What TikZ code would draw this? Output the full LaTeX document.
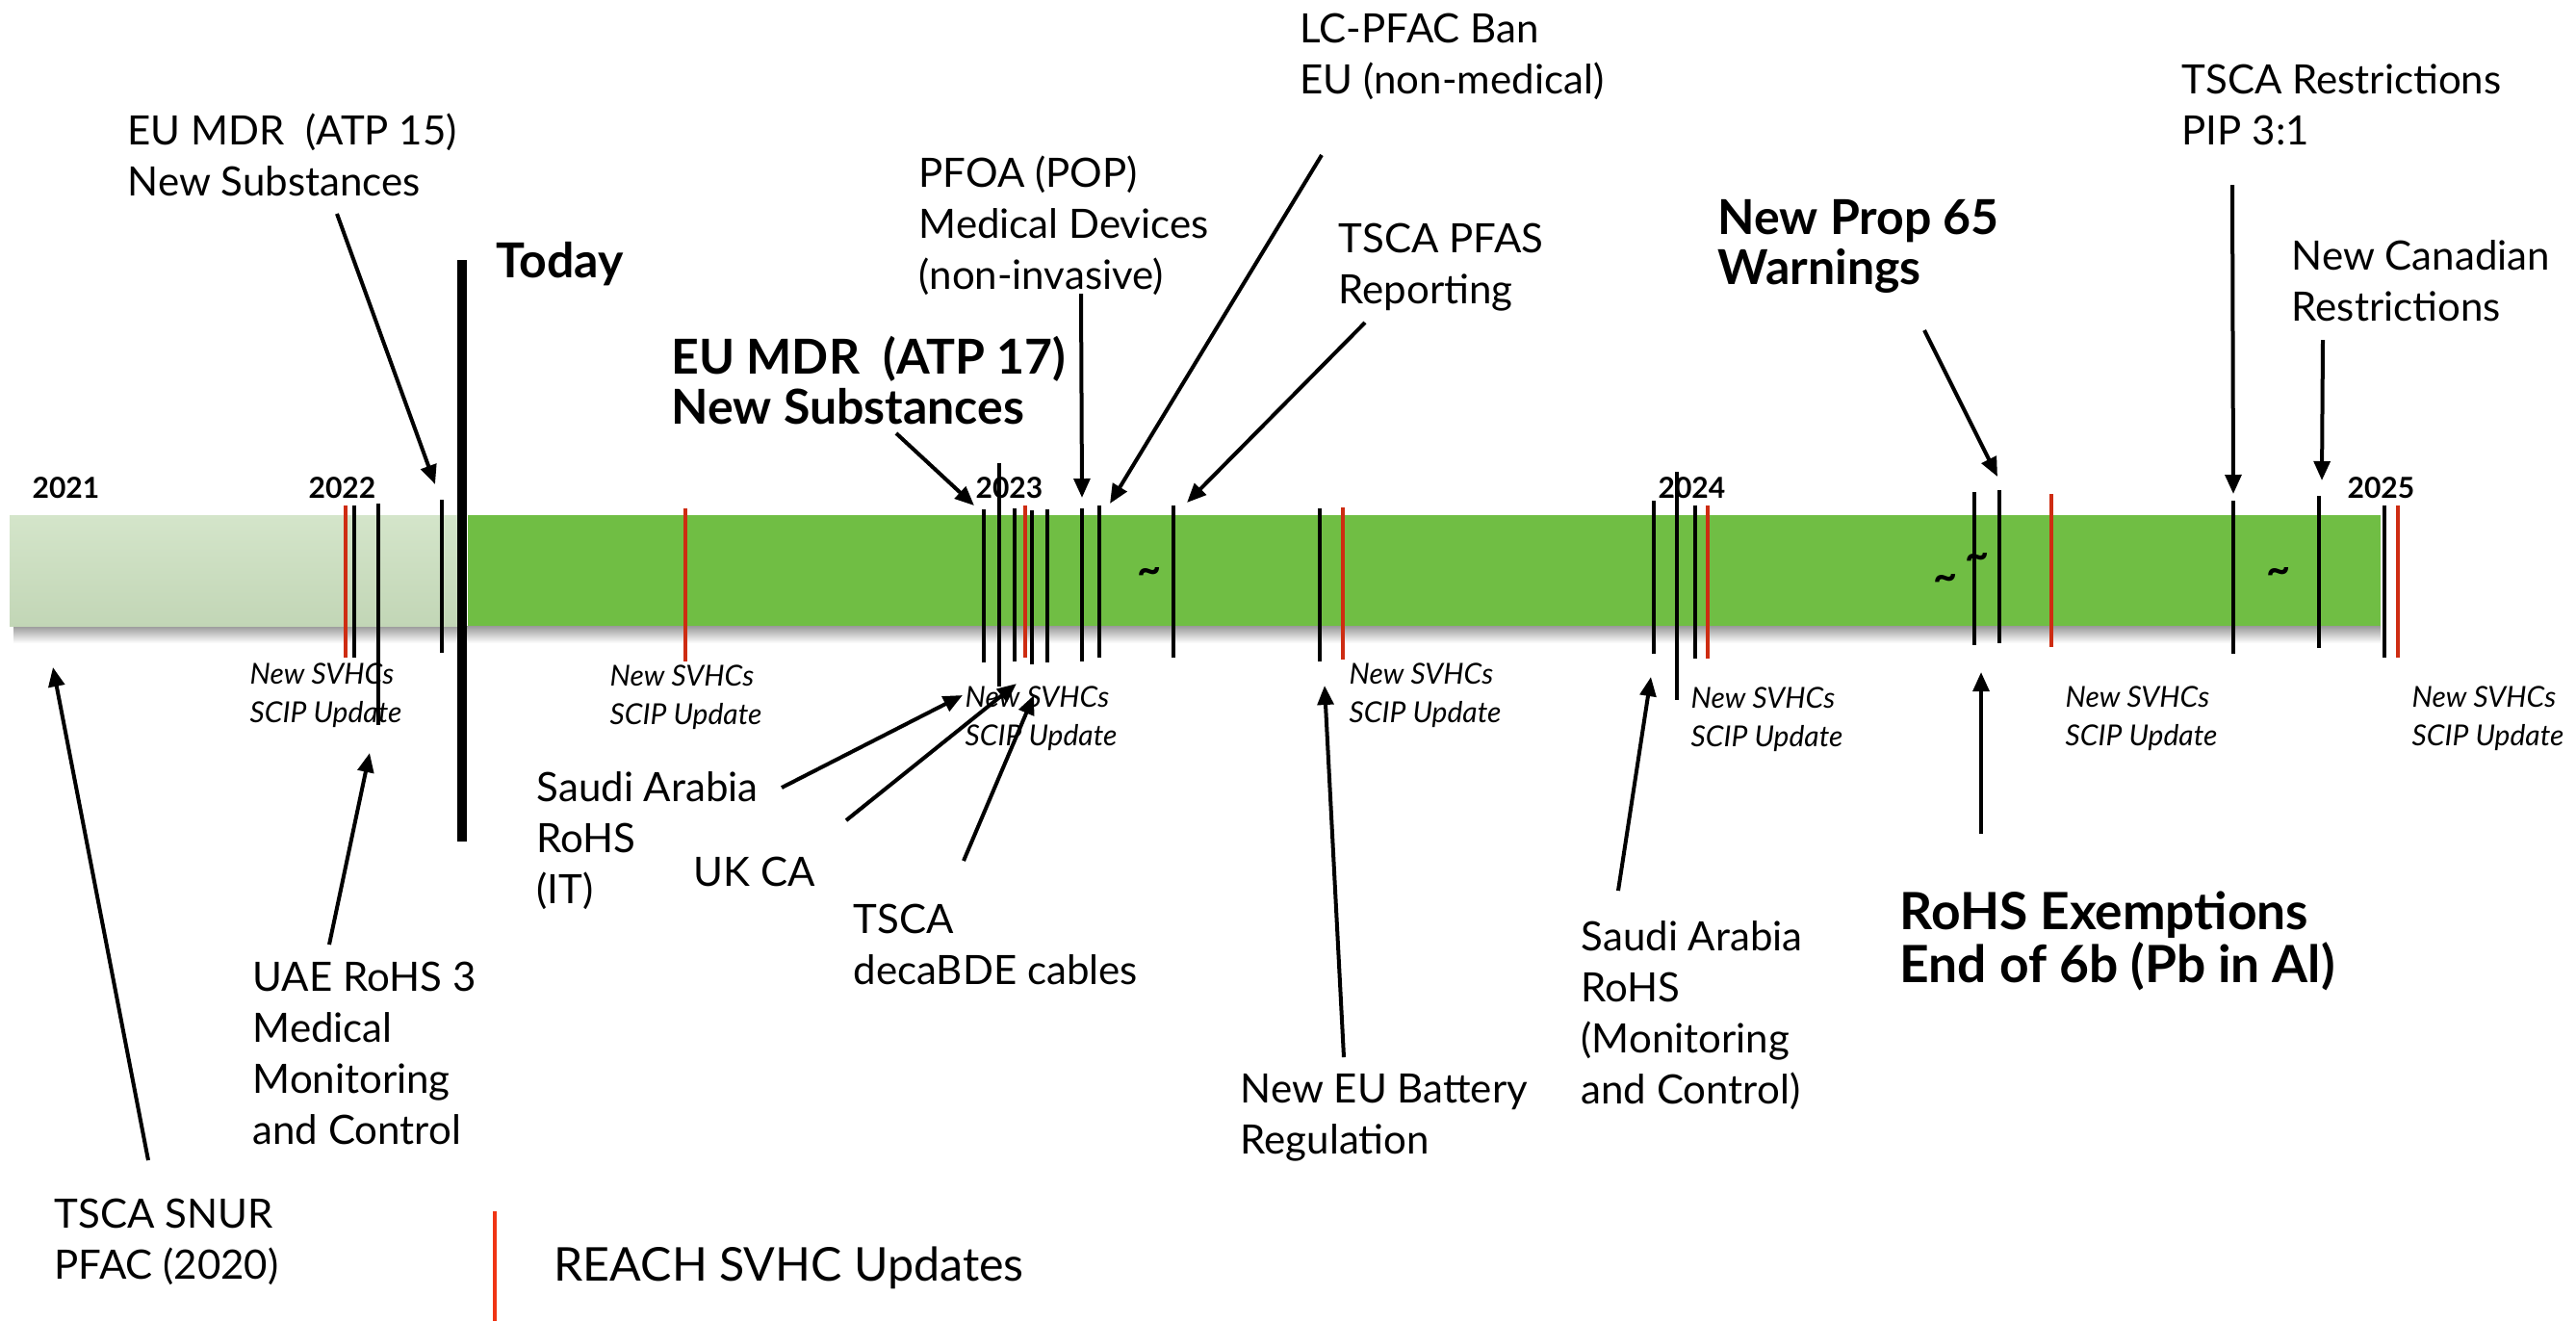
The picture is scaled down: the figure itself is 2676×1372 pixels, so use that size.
\documentclass[tikz,border=0pt]{standalone}
\usepackage{fontspec}
\setmainfont{Lato}
\usetikzlibrary{arrows.meta}
\definecolor{bargreen}{RGB}{112,190,68}
\definecolor{lighttop}{RGB}{212,229,202}
\definecolor{lightbot}{RGB}{194,214,182}
\definecolor{svhcred}{RGB}{206,44,18}
\definecolor{legendred}{RGB}{240,52,20}
\tikzset{
  lbl/.style={anchor=base west, inner sep=0pt, align=left, font={\fontsize{12.6}{15.9}\selectfont}},
  blbl/.style={anchor=base west, inner sep=0pt, align=left, font={\fontsize{15}{15.6}\selectfont\bfseries}},
  svhc/.style={anchor=base west, inner sep=0pt, align=left, font={\fontsize{9}{12}\selectfont\itshape}},
  yr/.style={anchor=base west, inner sep=0pt, font={\fontsize{9}{10}\selectfont\bfseries}},
  tld/.style={inner sep=0pt, font={\fontsize{13}{13}\selectfont\bfseries}},
  tickb/.style={line width=1.3pt, black},
  tickr/.style={line width=1.3pt, svhcred},
  arr/.style={line width=1.2pt, -{Triangle[length=6pt,width=5pt]}},
}
\begin{document}
\begin{tikzpicture}[x=0.3pt,y=-0.3pt]
\useasboundingbox (0,0) rectangle (2676,1372);
% shadow and bar
\shade[top color=black!40, bottom color=white] (14,650) rectangle (2473,668);
\shade[top color=lighttop, bottom color=lightbot] (10,535) rectangle (475,650);
\fill[bargreen] (486,535) rectangle (2473,650);
% Today
\draw[line width=3.2pt] (480,270) -- (480,874);
\node[blbl] (today) at (515,288) {Today};
% years
\node[yr] (y2021) at (33,517) {2021};
\node[yr] (y2022) at (320,517) {2022};
\node[yr] (y2023) at (1013,517) {2023};
\node[yr] (y2024) at (1722,517) {2024};
\node[yr] (y2025) at (2438,517) {2025};
% ticks
\foreach \x/\a/\b in {368/525/683, 393/523/753, 459/519/678, 1022/529/688, 1038/481/713,
  1054/528/687, 1072/530/690, 1088/529/688, 1124/528/687, 1142/525/683, 1219/525/683,
  1371/528/687, 1718/520/679, 1742/490/727, 1761/525/684, 2051/511/670, 2077/509/668,
  2320/520/679, 2409/515/673, 2477/525/683}
  \draw[tickb] (\x,\a) -- (\x,\b);
\foreach \x/\a/\b in {359/525/683, 712/528/687, 1065/525/683, 1395/527/685, 1774/525/684,
  2131/513/672, 2491/525/683}
  \draw[tickr] (\x,\a) -- (\x,\b);
% tildes
\node[tld] (t1) at (1194,598) {\char`\~};
\node[tld] (t2) at (2021,605) {\char`\~};
\node[tld] (t3) at (2054,583) {\char`\~};
\node[tld] (t4) at (2367,598) {\char`\~};
% SVHC labels (anchor = baseline of last line)
\node[svhc] (s1) at (259,750) {New SVHCs\\SCIP Update};
\node[svhc] (s2) at (633,752) {New SVHCs\\SCIP Update};
\node[svhc] (s3) at (1002,774) {New SVHCs\\SCIP Update};
\node[svhc] (s4) at (1401,750) {New SVHCs\\SCIP Update};
\node[svhc] (s5) at (1756,775) {New SVHCs\\SCIP Update};
\node[svhc] (s6) at (2145,774) {New SVHCs\\SCIP Update};
\node[svhc] (s7) at (2505,774) {New SVHCs\\SCIP Update};
% top labels
\node[lbl] (atp15) at (132,203) {EU MDR\ \ (ATP 15)\\New Substances};
\node[blbl] (atp17) at (697,440) {EU MDR\ \ (ATP 17)\\New Substances};
\node[lbl] (pfoa) at (954,300) {PFOA (POP)\\Medical Devices\\(non-invasive)};
\node[lbl] (lcpfac) at (1350,97) {LC-PFAC Ban\\EU (non-medical)};
\node[lbl] (pfas) at (1390,315) {TSCA PFAS\\Reporting};
\node[blbl] (prop65) at (1784,295) {New Prop 65\\Warnings};
\node[lbl] (tscar) at (2266,150) {TSCA Restrictions\\PIP 3:1};
\node[lbl] (canada) at (2380,333) {New Canadian\\Restrictions};
% bottom labels
\node[lbl] (snur) at (56,1328) {TSCA SNUR\\PFAC (2020)};
\node[lbl] (uae) at (262,1188) {UAE RoHS 3\\Medical\\Monitoring\\and Control};
\node[lbl] (saudiit) at (557,938) {Saudi Arabia\\RoHS\\(IT)};
\node[lbl] (ukca) at (720,920) {UK CA};
\node[lbl] (deca) at (886,1022) {TSCA\\decaBDE cables};
\node[lbl] (battery) at (1288,1198) {New EU Battery\\Regulation};
\node[lbl] (saudimc) at (1642,1146) {Saudi Arabia\\RoHS\\(Monitoring\\and Control)};
\node[blbl, font={\fontsize{16}{16.5}\selectfont\bfseries}] (rohsex) at (1973,1020) {RoHS Exemptions\\End of 6b (Pb in Al)};
% legend
\draw[line width=1.4pt, legendred] (514,1258) -- (514,1372);
\node[lbl, font={\fontsize{14.5}{17}\selectfont}] (legend) at (575,1330) {REACH SVHC Updates};
% arrow coordinates
\coordinate (a1s) at (350,222);   \coordinate (a1e) at (452,503);
\coordinate (a2s) at (931,450);   \coordinate (a2e) at (1012,525);
\coordinate (a3s) at (1123,305);  \coordinate (a3e) at (1124,517);
\coordinate (a4s) at (1373,161);  \coordinate (a4e) at (1153,523);
\coordinate (a5s) at (1418,335);  \coordinate (a5e) at (1233,522);
\coordinate (a6s) at (1999,343);  \coordinate (a6e) at (2075,495);
\coordinate (a7s) at (2319,192);  \coordinate (a7e) at (2320,513);
\coordinate (a8s) at (2413,353);  \coordinate (a8e) at (2412,499);
\coordinate (b1s) at (154,1205);  \coordinate (b1e) at (55,693);
\coordinate (b2s) at (342,981);   \coordinate (b2e) at (384,782);
\coordinate (b3s) at (812,818);   \coordinate (b3e) at (1000,722);
\coordinate (b4s) at (879,852);   \coordinate (b4e) at (1056,710);
\coordinate (b5s) at (1001,894);  \coordinate (b5e) at (1074,722);
\coordinate (b6s) at (1396,1098); \coordinate (b6e) at (1376,712);
\coordinate (b7s) at (1681,925);  \coordinate (b7e) at (1715,703);
\coordinate (b8s) at (2058,866);  \coordinate (b8e) at (2058,698);
\foreach \n in {a1,a2,a3,a4,a5,a6,a7,a8,b1,b2,b3,b4,b5,b6,b7,b8}
  \draw[arr] (\n s) -- (\n e);
\end{tikzpicture}
\end{document}
